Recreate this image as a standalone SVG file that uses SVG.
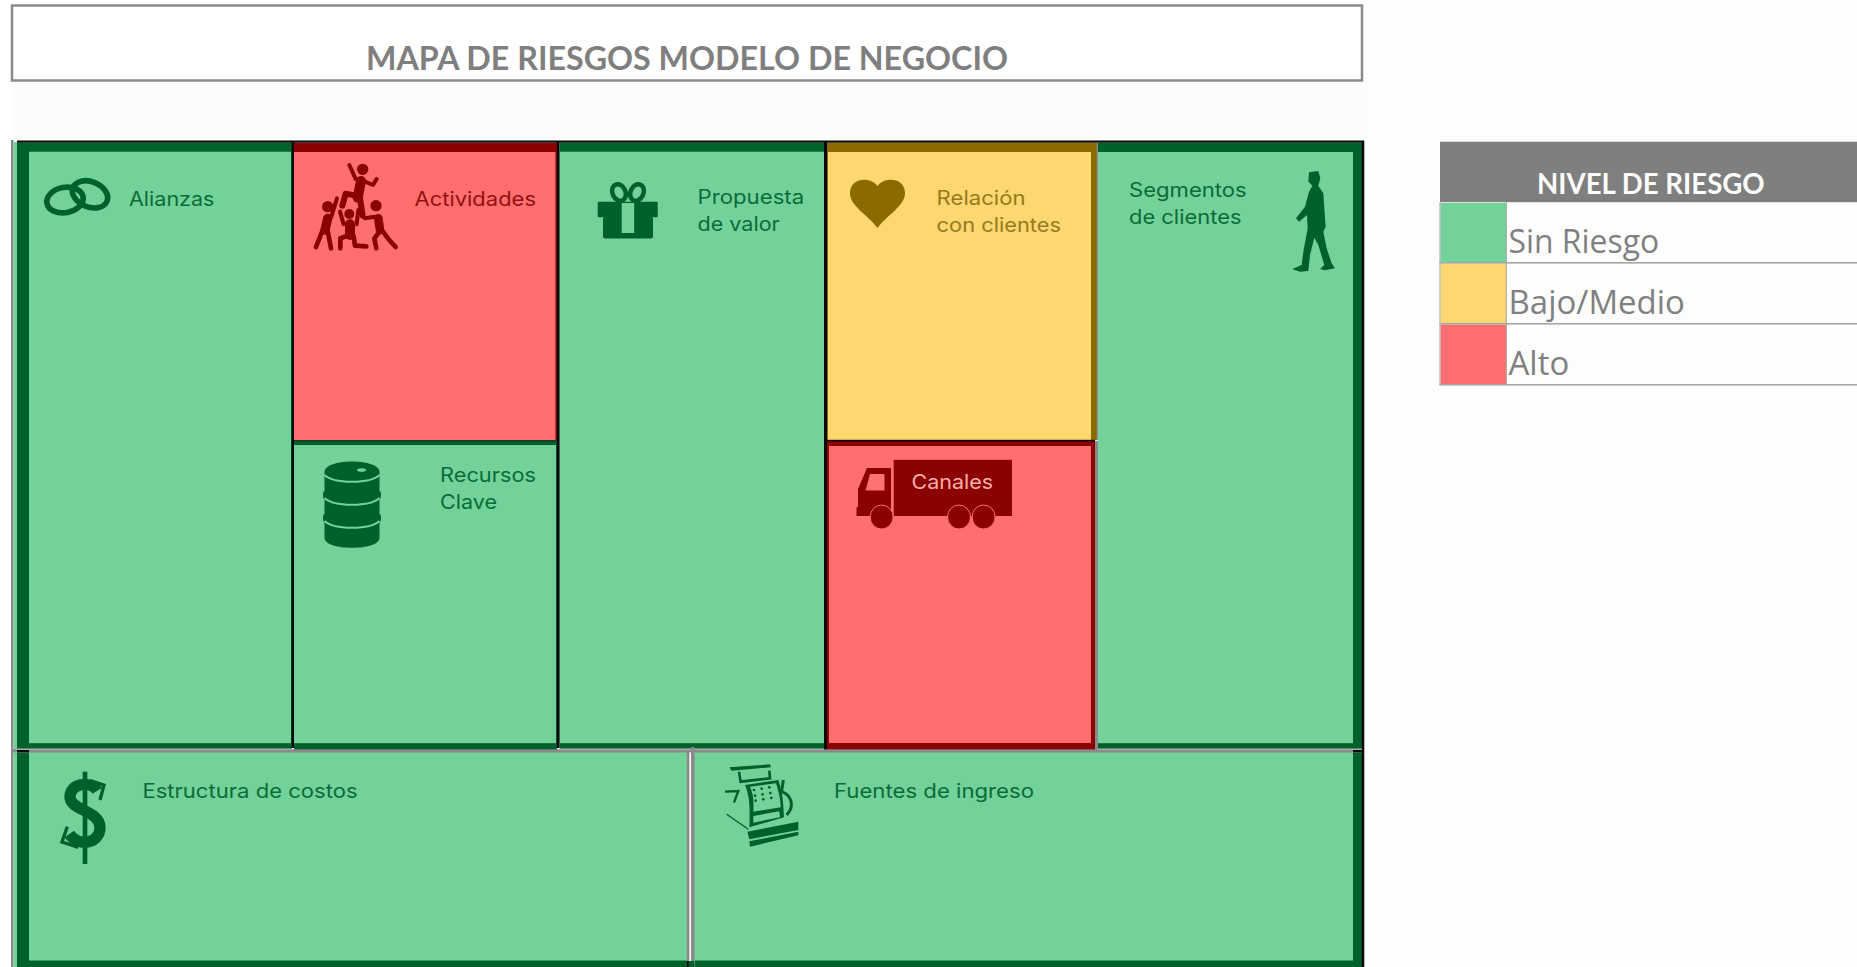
<svg xmlns="http://www.w3.org/2000/svg" width="1857" height="967" viewBox="0 0 1857 967">
<style>
.g{fill:#72d29a}.gd{fill:#00602b}.r{fill:#ff6f6f}.rd{fill:#8b0000}.y{fill:#fdd76f}.yd{fill:#8c6a00}
.t{font-family:"Inter","Open Sans",sans-serif;font-size:19.5px;font-weight:400}
.tg{fill:#0b6b38}.tr{fill:#941010}.ty{fill:#967a1c}
.sg{stroke:#00602b;fill:none;stroke-linecap:round;stroke-linejoin:round}
.sr{stroke:#8b0000;fill:none;stroke-linecap:round;stroke-linejoin:round}
.lg{font-family:"Open Sans","Noto Sans",sans-serif;font-size:32px;fill:#808080}
.hd{font-family:"Lato","Open Sans",sans-serif;font-weight:700;fill:#7f7f7f}
.bl{fill:#0a0a0a}.gr{fill:#8a8a8a}.ln{fill:#a6a6a6}
</style>
<defs><filter id="soft" x="-10%" y="-10%" width="120%" height="120%"><feGaussianBlur stdDeviation="0.55"/></filter></defs>
<rect width="1857" height="967" fill="#ffffff"/>
<rect x="11" y="82" width="1351" height="58" fill="#fcfcfc"/>
<rect x="1362" y="0" width="495" height="967" fill="#fdfdfd"/>

<g id="title">
<rect x="12" y="5.5" width="1350" height="75" fill="#fff" stroke="#8a8a8a" stroke-width="2.5"/>
<text class="hd" x="366" y="70" font-size="32" textLength="642" lengthAdjust="spacingAndGlyphs">MAPA DE RIESGOS MODELO DE NEGOCIO</text>
</g>

<g id="canvas-frame">
<rect x="11" y="140" width="2.5" height="827" class="gr"/>
<rect x="13.5" y="142" width="3.5" height="825" class="g"/>
</g>

<g id="alianzas">
<rect x="17" y="142.7" width="275" height="606" class="gd"/>
<rect x="29" y="151.7" width="262" height="591.5" class="g"/>
<g class="sg" filter="url(#soft)" transform="translate(30 160) scale(.3333)" stroke-width="17">
<ellipse cx="105" cy="120" rx="55" ry="38" transform="rotate(-10 105 120)"/>
<ellipse cx="180" cy="103" rx="55" ry="38" transform="rotate(22 180 103)"/>
</g>
<text class="t tg" x="129" y="205.5" textLength="85.5" lengthAdjust="spacingAndGlyphs">Alianzas</text>
</g>

<g id="actividades">
<rect x="292" y="142.7" width="266" height="297.5" class="rd"/>
<rect x="294" y="152" width="261.5" height="288.2" class="r"/>
<g filter="url(#soft)" transform="translate(305 155) scale(.3333)">
<g fill="#8b0000"><circle cx="173" cy="43" r="17"/><circle cx="68" cy="155" r="17"/><circle cx="133" cy="177" r="15"/><circle cx="213" cy="152" r="17"/></g>
<g class="sr">
<path d="M168 78 L158 128" stroke-width="30"/>
<path d="M133 30 L152 72" stroke-width="12"/><path d="M172 76 L204 90 L215 72" stroke-width="12"/>
<path d="M152 122 L122 116 L112 152" stroke-width="18"/><path d="M165 130 L173 182" stroke-width="18"/>
<path d="M68 190 L60 225" stroke-width="28"/><path d="M78 188 L96 130" stroke-width="12"/>
<path d="M52 228 L33 276" stroke-width="14"/><path d="M68 228 L78 280" stroke-width="14"/>
<path d="M135 208 L135 240" stroke-width="30"/><path d="M116 208 L105 170" stroke-width="12"/><path d="M155 208 L160 165" stroke-width="12"/>
<path d="M124 244 L106 250 L106 280" stroke-width="14"/><path d="M146 244 L150 272 L184 274" stroke-width="14"/>
<path d="M220 190 L225 225" stroke-width="26"/><path d="M210 185 L180 190" stroke-width="12"/>
<path d="M222 232 L208 250 L214 280" stroke-width="14"/><path d="M234 230 L250 252 L272 276" stroke-width="14"/>
</g>
</g>
<text class="t tr" x="414.5" y="205.5" textLength="121.5" lengthAdjust="spacingAndGlyphs">Actividades</text>
</g>

<g id="recursos">
<rect x="294" y="440.2" width="263" height="310" class="gd"/>
<rect x="294" y="445" width="262" height="298.2" class="g"/>
<g filter="url(#soft)">
<path d="M324.5 472 C324.5 458 379.5 458 379.5 472 V538 C379.5 551 324.5 551 324.5 538Z" class="gd"/>
<ellipse cx="324.5" cy="495" rx="1.5" ry="4" class="gd"/><ellipse cx="379.5" cy="495" rx="1.5" ry="4" class="gd"/>
<ellipse cx="324.5" cy="518" rx="1.5" ry="4" class="gd"/><ellipse cx="379.5" cy="518" rx="1.5" ry="4" class="gd"/>
<ellipse cx="361.5" cy="470" rx="4.5" ry="1.8" fill="#72d29a"/>
<g fill="none" stroke="#72d29a" stroke-width="1.8">
<path d="M324.5 475 C334 484 370 484 379.5 475"/><path d="M324.5 498 C334 507 370 507 379.5 498"/><path d="M324.5 521 C334 530 370 530 379.5 521"/>
</g></g>
<text class="t tg" x="440" y="482" textLength="96" lengthAdjust="spacingAndGlyphs">Recursos</text>
<text class="t tg" x="440" y="508.5" textLength="57" lengthAdjust="spacingAndGlyphs">Clave</text>
</g>

<g id="propuesta">
<rect x="559.5" y="142.7" width="265" height="606" class="gd"/>
<rect x="560" y="151.7" width="264" height="591.5" class="g"/>
<g filter="url(#soft)">
<g class="sg" stroke-width="4.5"><ellipse cx="619" cy="192.5" rx="6.5" ry="8.5" transform="rotate(-25 619 192.5)"/><ellipse cx="637" cy="192.5" rx="6.5" ry="8.5" transform="rotate(25 637 192.5)"/></g>
<rect x="597.7" y="201.7" width="60" height="15.6" rx="1" class="gd"/>
<rect x="603" y="217" width="50" height="21.5" rx="2" class="gd"/>
<rect x="621.7" y="203" width="12.5" height="30" fill="#72d29a"/>
</g>
<text class="t tg" x="697.5" y="203.5" textLength="106.7" lengthAdjust="spacingAndGlyphs">Propuesta</text>
<text class="t tg" x="697.5" y="230.7" textLength="82.2" lengthAdjust="spacingAndGlyphs">de valor</text>
</g>

<g id="relacion">
<rect x="827" y="142.7" width="270" height="297.5" class="yd"/>
<rect x="828" y="152" width="263" height="288.2" class="y"/>
<rect x="1096.6" y="142.7" width="1.6" height="297" class="gr"/>
<path filter="url(#soft)" d="M877.5 228 C867 214 850 206 850 193 C850 178 870 176 877.5 186 C885 176 905 178 905 193 C905 206 888 214 877.5 228Z" class="yd"/>
<text class="t ty" x="936.6" y="205.3" textLength="88.9" lengthAdjust="spacingAndGlyphs">Relación</text>
<text class="t ty" x="936.6" y="231.7" textLength="124.4" lengthAdjust="spacingAndGlyphs">con clientes</text>
</g>

<g id="canales">
<rect x="827" y="441" width="268" height="309" class="rd"/>
<rect x="829" y="446" width="262" height="297" class="r"/>
<rect x="1095" y="441" width="3" height="309" class="gr"/>
<g filter="url(#soft)">
<rect x="893.7" y="459.8" width="118.3" height="56.2" class="rd"/>
<path d="M867 468 H891 V516 H856.5 V508 L858 506 V489Z" class="rd"/>
<path d="M865.5 490.5 L870 474 H884.5 V490.5Z" class="r"/>
<g class="rd" stroke="#ff6f6f" stroke-width="1"><ellipse cx="881.6" cy="517" rx="11.5" ry="12"/><ellipse cx="959" cy="517" rx="11.5" ry="12"/><ellipse cx="983.6" cy="517" rx="11.5" ry="12"/></g>
</g>
<text class="t" fill="#ffb0a8" x="911.5" y="489" textLength="81.5" lengthAdjust="spacingAndGlyphs">Canales</text>
</g>

<g id="segmentos">
<rect x="1098" y="142.7" width="264" height="606" class="gd"/>
<rect x="1098" y="152" width="255" height="591.2" class="g"/>
<path filter="url(#soft)" transform="translate(1285 165) scale(.3333)" class="gd" d="M72 22 L100 18 L106 40 L100 62 L115 85 L118 130 L122 185 L115 200 L125 250 L140 295 L150 310 L120 316 L105 312 L118 300 L100 240 L88 218 L75 270 L70 318 L45 320 L22 312 L50 300 L55 260 L68 190 L66 150 L42 170 L33 160 L60 125 L72 80 L82 62 L70 50Z"/>
<text class="t tg" x="1129" y="197.3" textLength="117.7" lengthAdjust="spacingAndGlyphs">Segmentos</text>
<text class="t tg" x="1129" y="224" textLength="112.5" lengthAdjust="spacingAndGlyphs">de clientes</text>
</g>

<g id="estructura">
<rect x="17" y="752.5" width="671" height="214.5" class="gd"/>
<rect x="29" y="752.5" width="659" height="208" class="g"/>
<g filter="url(#soft)" transform="translate(50 760) scale(.3333)">
<path d="M142 92 C125 65 65 65 60 108 C57 152 150 150 150 202 C150 252 85 262 58 222" fill="none" stroke="#00602b" stroke-width="34"/>
<path d="M105 35 L105 312" stroke="#00602b" stroke-width="14" fill="none"/>
<path d="M120 62 L162 75 L150 120 M52 200 L36 246 L85 262" stroke="#00602b" stroke-width="10" fill="none"/>
</g>
<text class="t tg" x="142.4" y="797.5" textLength="215.2" lengthAdjust="spacingAndGlyphs">Estructura de costos</text>
</g>

<g id="fuentes">
<rect x="694.5" y="752.5" width="667.5" height="214.5" class="gd"/>
<rect x="694.5" y="752.5" width="658.5" height="208" class="g"/>
<g filter="url(#soft)" transform="translate(670 730) scale(.3333)">
<path d="M178 112 L300 103 L303 112 L185 122Z" class="gd"/>
<path d="M207 125 L212 155 L300 145 L298 122" fill="none" stroke="#00602b" stroke-width="8"/>
<path d="M225 165 L325 150 C340 190 340 230 342 262 L238 292 C240 240 240 200 225 165Z" class="gd"/>
<path d="M240 170 L318 160 C328 190 332 215 332 232 L250 245 C252 215 250 190 240 170Z" fill="#72d29a"/>
<g fill="#00602b"><circle cx="252" cy="180" r="4"/><circle cx="275" cy="176" r="4"/><circle cx="298" cy="172" r="4"/><circle cx="255" cy="197" r="4"/><circle cx="278" cy="193" r="4"/><circle cx="301" cy="189" r="4"/><circle cx="257" cy="212" r="4"/><circle cx="280" cy="208" r="4"/><circle cx="304" cy="204" r="4"/></g>
<path d="M250 258 L328 244 L330 262 L250 278Z" fill="#72d29a"/>
<path d="M340 150 L335 185 C365 195 375 230 350 255" fill="none" stroke="#00602b" stroke-width="9"/>
<path d="M165 185 L205 183 L192 218" fill="none" stroke="#00602b" stroke-width="7"/>
<path d="M170 253 L235 298" fill="none" stroke="#00602b" stroke-width="4"/>
<path d="M232 305 L385 275 L385 300 L238 328Z" class="gd"/>
<path d="M238 334 L385 305 L385 316 L240 350Z" class="gd"/>
</g>
<text class="t tg" x="834" y="797.5" textLength="200" lengthAdjust="spacingAndGlyphs">Fuentes de ingreso</text>
</g>

<g id="connectors">
<rect x="17" y="140.5" width="1347" height="2.2" class="bl"/>
<rect x="291.6" y="141" width="2.4" height="607" class="bl"/>
<rect x="556.8" y="141" width="2.7" height="607" class="bl"/>
<rect x="824" y="141" width="3" height="609" class="bl"/>
<rect x="294" y="440" width="263" height="1.6" fill="#1a3a26"/>
<rect x="827" y="439.8" width="268" height="1.6" class="bl"/>
<rect x="1361.7" y="141" width="2.3" height="826" class="bl"/>
<rect x="1364" y="141" width="1" height="826" fill="#b5b5b5"/>
<rect x="11" y="749.3" width="1351" height="3" class="gr"/>
<rect x="17" y="750" width="12" height="2.5" class="bl"/>
<rect x="1353" y="750" width="11" height="2.5" class="bl"/>
<rect x="686.8" y="752" width="2.6" height="209" class="gr"/>
<rect x="691" y="747" width="3.4" height="214" class="gr"/>
<rect x="686.8" y="961" width="7.6" height="6" class="gd"/>
<rect x="687" y="961" width="1.6" height="6" class="bl"/>
</g>

<g id="leyenda">
<rect x="1440" y="141.7" width="417" height="60.5" fill="#7f7f7f"/>
<text x="1537" y="194" font-family="Lato,'Open Sans',sans-serif" font-weight="700" font-size="28" fill="#fdfdfd" textLength="227.7" lengthAdjust="spacingAndGlyphs">NIVEL DE RIESGO</text>
<rect x="1440.5" y="203" width="66" height="59.5" class="g"/>
<rect x="1440.5" y="263.5" width="66" height="60" class="y"/>
<rect x="1440.5" y="324.5" width="66" height="60" class="r"/>
<rect x="1505.8" y="202" width="1" height="183" class="ln"/>
<rect x="1439.5" y="202" width="1" height="183" class="ln"/>
<rect x="1439.5" y="262" width="417.5" height="1.6" class="ln"/>
<rect x="1439.5" y="323" width="417.5" height="1.6" class="ln"/>
<rect x="1439.5" y="384" width="417.5" height="1.6" class="ln"/>
<text class="lg" x="1508.5" y="253" textLength="150.7" lengthAdjust="spacingAndGlyphs">Sin Riesgo</text>
<text class="lg" x="1508.5" y="314" textLength="176.4" lengthAdjust="spacingAndGlyphs">Bajo/Medio</text>
<text class="lg" x="1508.5" y="375" textLength="60.7" lengthAdjust="spacingAndGlyphs">Alto</text>
</g>
</svg>
